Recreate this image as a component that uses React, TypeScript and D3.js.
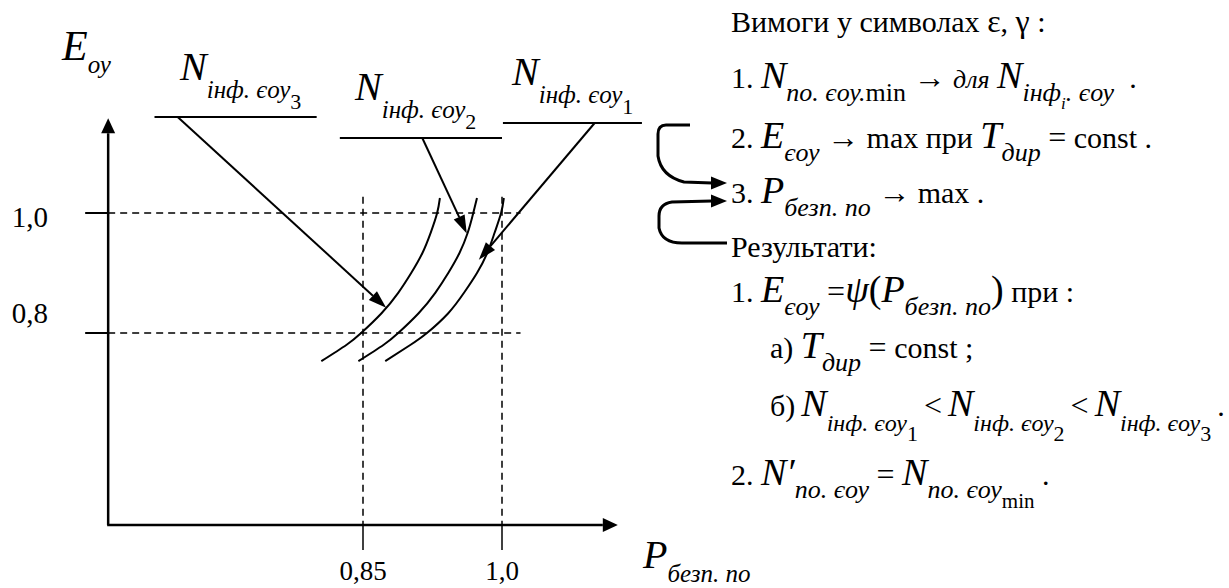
import React from "react";
import * as d3 from "d3";

// ---------- data ----------
const X_TICKS = [0.85, 1.0];
const X_TICK_LABELS = ["0,85", "1,0"];
const Y_TICKS = [0.8, 1.0];
const Y_TICK_LABELS = ["0,8", "1,0"];

const AXIS_P = [0.575, 1.125];
const AXIS_E = [0.48, 1.158];
const GUIDE_P_END = 1.02;
const GUIDE_E_END = 1.027;

// curves E_oy = f(P) for N_inf3, N_inf2, N_inf1 (left to right)
const E_CURVE = [0.753, 0.78, 0.8, 0.833, 0.867, 0.9, 0.933, 0.967, 1.0, 1.025];
const P_CURVE_N3 = [0.805, 0.832, 0.848, 0.870, 0.888, 0.902, 0.914, 0.923, 0.930, 0.933];
const P_CURVE_N2 = [0.845, 0.872, 0.888, 0.910, 0.928, 0.942, 0.954, 0.963, 0.969, 0.973];
const P_CURVE_N1 = [0.874, 0.901, 0.919, 0.942, 0.959, 0.973, 0.984, 0.992, 0.999, 1.002];

// label shelves and pointer arrows (N3, N2, N1)
const LABEL_INDEX = ["3", "2", "1"];
const SHELF_P0 = [0.625, 0.825, 1.001];
const SHELF_P1 = [0.8, 1.0, 1.151];
const SHELF_E = [1.16, 1.125, 1.15];
const ARROW_FROM_P = [0.65, 0.914, 1.1];
const ARROW_TO_P = [0.875, 0.962, 0.975];
const ARROW_TO_E = [0.842, 0.966, 0.922];

// ---------- text rows ----------
type Tok = [string, string];
const ROW_REQ: Tok[] = [["Вимоги у символах ", "r"], ["ε", "g"], [", ", "r"], ["γ", "g"], [" :", "r"]];
const ROW_1: Tok[] = [["1. ", "r"], ["N", "I"], ["по. єоу.", "s"], ["min", "u"], [" ", "r"], ["→", "a"], [" ", "r"], ["для", "i"], [" ", "r"], ["N", "I"], ["інф", "s"], ["i", "q"], [". єоу", "s"], ["  .", "r"]];
const ROW_2: Tok[] = [["2. ", "r"], ["E", "I"], ["єоу", "s"], [" ", "r"], ["→", "a"], [" max при ", "r"], ["T", "I"], ["дир", "s"], [" ", "r"], ["=", "e"], [" const .", "r"]];
const ROW_3: Tok[] = [["3. ", "r"], ["P", "I"], ["безп. по", "s"], [" ", "r"], ["→", "a"], [" max .", "r"]];
const ROW_RES: Tok[] = [["Результати:", "r"]];
const ROW_R1: Tok[] = [["1. ", "r"], ["E", "I"], ["єоу", "s"], [" ", "r"], ["=", "e"], ["ψ", "I"], ["(", "b"], ["P", "I"], ["безп. по", "s"], [")", "b"], [" при :", "r"]];
const ROW_RA: Tok[] = [["а) ", "r"], ["T", "I"], ["дир", "s"], [" ", "r"], ["=", "e"], [" const ;", "r"]];
const ROW_RB: Tok[] = [["б)\u2009", "r"], ["N", "I"], ["інф. єоу", "s"], ["1", "d"], ["\u2009", "r"], ["<", "e"], ["\u2009", "r"], ["N", "I"], ["інф. єоу", "s"], ["2", "d"], ["\u2009", "r"], ["<", "e"], ["\u2009", "r"], ["N", "I"], ["інф. єоу", "s"], ["3", "d"], ["\u2009.", "r"]];
const ROW_R2: Tok[] = [["2. ", "r"], ["N′", "I"], ["по. єоу", "s"], [" ", "r"], ["=", "e"], [" ", "r"], ["N", "I"], ["по. єоу", "s"], ["min", "m"], [" .", "r"]];

const FONT = '"Liberation Serif"';

type RichOpts = { big?: number; reg?: number; subSize?: number; sub?: number; dig?: number };

function Rich({ x, y, toks, o = {} }: { x: number; y: number; toks: Tok[]; o?: RichOpts }) {
  const big = o.big ?? 38;
  const reg = o.reg ?? 30;
  const subSize = o.subSize ?? 26;
  const sub = o.sub ?? 13;
  const dig = o.dig ?? 24;
  const K: Record<string, { size: number; it: boolean; dy: number }> = {
    r: { size: reg, it: false, dy: 0 },
    I: { size: big, it: true, dy: 0 },
    i: { size: 26, it: true, dy: 0 },
    s: { size: subSize, it: true, dy: sub },
    u: { size: subSize, it: false, dy: sub },
    d: { size: 22, it: false, dy: dig },
    q: { size: 17, it: true, dy: sub + 8 },
    m: { size: 21, it: false, dy: sub + 10 },
    g: { size: 32, it: false, dy: 0 },
    b: { size: big, it: false, dy: 0 },
    a: { size: 32, it: false, dy: 0 },
    e: { size: 32, it: false, dy: 0 },
  };
  return (
    <text x={x} y={y} fill="#000" style={{ whiteSpace: "pre", fontFamily: FONT }}>
      {toks.map(([t, k], i) => (
        <tspan key={i} y={y + K[k].dy} style={{ fontSize: K[k].size + "px", fontStyle: K[k].it ? "italic" : "normal", fontFamily: FONT }}>
          {t}
        </tspan>
      ))}
    </text>
  );
}

function arrowHead(x1: number, y1: number, x2: number, y2: number, L: number, W: number) {
  const dx = x2 - x1, dy = y2 - y1;
  const len = Math.hypot(dx, dy);
  const ux = dx / len, uy = dy / len;
  const bx = x2 - ux * L, by = y2 - uy * L;
  const px = -uy * (W / 2), py = ux * (W / 2);
  return { pts: `${x2},${y2} ${bx + px},${by + py} ${bx - px},${by - py}`, bx, by };
}

export default function App() {
  const x = d3.scaleLinear().domain([0.85, 1.0]).range([363, 502]);
  const y = d3.scaleLinear().domain([0.8, 1.0]).range([333, 213]);

  const x0 = x(AXIS_P[0]), x1 = x(AXIS_P[1]);
  const yBot = y(AXIS_E[0]), yTop = y(AXIS_E[1]);

  const line = d3
    .line<[number, number]>()
    .x((d) => x(d[0]))
    .y((d) => y(d[1]))
    .curve(d3.curveNatural);

  const curves = [P_CURVE_N3, P_CURVE_N2, P_CURVE_N1].map((ps) => d3.zip(ps, E_CURVE) as [number, number][]);

  const yAxisHead = arrowHead(x0, yBot, x0, yTop, 15, 14);
  const xAxisHead = arrowHead(x0, yBot, x1, yBot, 15, 14);

  const labelX = [180, 355, 512];
  const labelY = [80, 100, 85];

  const br1 = d3.path();
  br1.moveTo(690, 125);
  br1.lineTo(666, 125);
  br1.quadraticCurveTo(658, 125, 658, 134);
  br1.lineTo(658, 156);
  br1.quadraticCurveTo(661, 176, 684, 182);
  br1.lineTo(712, 183);
  const br2 = d3.path();
  br2.moveTo(712, 201);
  br2.lineTo(672, 202);
  br2.quadraticCurveTo(659, 204, 659, 216);
  br2.lineTo(659, 228);
  br2.quadraticCurveTo(662, 243, 682, 243);
  br2.lineTo(727, 243);

  const tickText = { fontFamily: FONT, fontSize: "29px" };

  return (
    <svg width={1229} height={588} style={{ position: "absolute", left: 0, top: 0, background: "#fff" }}>
      {Y_TICKS.map((t) => (
        <line key={"gh" + t} x1={x0} x2={x(GUIDE_P_END)} y1={y(t)} y2={y(t)} stroke="#000" strokeWidth={1.5} strokeDasharray="7,5" />
      ))}
      {X_TICKS.map((t) => (
        <line key={"gv" + t} x1={x(t)} x2={x(t)} y1={y(GUIDE_E_END)} y2={yBot} stroke="#000" strokeWidth={1.5} strokeDasharray="7,5" />
      ))}
      <line x1={x0} x2={x0} y1={yBot} y2={yAxisHead.by} stroke="#000" strokeWidth={2.5} />
      <polygon points={yAxisHead.pts} fill="#000" />
      <line x1={x0 - 1} x2={xAxisHead.bx} y1={yBot} y2={yBot} stroke="#000" strokeWidth={2.5} />
      <polygon points={xAxisHead.pts} fill="#000" />
      {Y_TICKS.map((t, i) => (
        <g key={"yt" + t}>
          <line x1={x0 - 23} x2={x0} y1={y(t)} y2={y(t)} stroke="#000" strokeWidth={2} />
          <text x={48} y={y(t) + (i === 1 ? 14 : -10)} textAnchor="end" style={tickText}>
            {Y_TICK_LABELS[i]}
          </text>
        </g>
      ))}
      {X_TICKS.map((t, i) => (
        <g key={"xt" + t}>
          <line x1={x(t)} x2={x(t)} y1={yBot} y2={yBot + 25} stroke="#000" strokeWidth={1.5} />
          <text x={x(t)} y={580} textAnchor="middle" style={{ fontFamily: FONT, fontSize: "27px" }}>
            {X_TICK_LABELS[i]}
          </text>
        </g>
      ))}
      {curves.map((c, i) => (
        <path key={"c" + i} d={line(c) || ""} fill="none" stroke="#000" strokeWidth={2} />
      ))}
      {LABEL_INDEX.map((lab, i) => {
        const ax1 = x(ARROW_FROM_P[i]), ay1 = y(SHELF_E[i]);
        const ax2 = x(ARROW_TO_P[i]), ay2 = y(ARROW_TO_E[i]);
        const h = arrowHead(ax1, ay1, ax2, ay2, 18, 12);
        return (
          <g key={"lab" + lab}>
            <line x1={x(SHELF_P0[i])} x2={x(SHELF_P1[i])} y1={ay1} y2={ay1} stroke="#000" strokeWidth={2} />
            <line x1={ax1} y1={ay1} x2={h.bx} y2={h.by} stroke="#000" strokeWidth={2} />
            <polygon points={h.pts} fill="#000" />
            <Rich
              x={labelX[i]}
              y={labelY[i]}
              toks={[["N", "I"], ["інф. єоу", "s"], [lab, "d"]]}
              o={{ big: 40, sub: 18, dig: 29, subSize: 25 }}
            />
          </g>
        );
      })}
      <Rich x={62} y={60} toks={[["E", "I"], ["оу", "s"]]} o={{ big: 42, sub: 13, subSize: 25 }} />
      <Rich x={643} y={568} toks={[["P", "I"], ["безп. по", "s"]]} o={{ big: 40, sub: 14, subSize: 25 }} />

      <path d={br1.toString()} fill="none" stroke="#000" strokeWidth={3} />
      <polygon points="727,183 711,176.5 711,189.5" fill="#000" />
      <path d={br2.toString()} fill="none" stroke="#000" strokeWidth={3} />
      <polygon points="727,201 711,194.5 711,207.5" fill="#000" />

      <Rich x={731} y={32} toks={ROW_REQ} />
      <Rich x={731} y={88} toks={ROW_1} />
      <Rich x={731} y={148} toks={ROW_2} />
      <Rich x={731} y={203} toks={ROW_3} />
      <Rich x={731} y={257} toks={ROW_RES} />
      <Rich x={731} y={302} toks={ROW_R1} />
      <Rich x={770} y={358} toks={ROW_RA} />
      <Rich x={770} y={416} toks={ROW_RB} o={{ reg: 30, subSize: 24, sub: 15, dig: 25 }} />
      <Rich x={731} y={485} toks={ROW_R2} />
    </svg>
  );
}
